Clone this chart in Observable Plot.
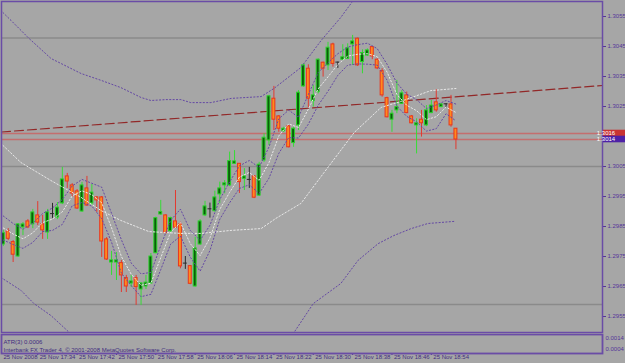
<!DOCTYPE html>
<html><head><meta charset="utf-8">
<script src="https://cdn.jsdelivr.net/npm/d3@7"></script>
<script src="https://cdn.jsdelivr.net/npm/@observablehq/plot@0.6"></script>
<style>
html,body{margin:0;padding:0;background:#a6a6a6;}
#chart svg{display:block;}
</style></head><body><div id="chart"></div>
<script>
// ---- data (M1 candles, 25 Nov 2008 17:27 - 18:59) ----
const bars = d3.range(1, 94);
const open = [1.29790,1.29834,1.29798,1.29750,1.29847,1.29867,1.29857,1.29887,1.29857,1.29830,
1.29893,1.29880,1.29927,1.30017,1.29987,1.29967,1.29900,1.29977,1.29927,1.29947,
1.29947,1.29807,1.29730,1.29730,1.29728,1.29678,1.29660,1.29678,1.29640,1.29650,
1.29660,1.29761,1.29890,1.29887,1.29834,1.29867,1.29857,1.29728,1.29718,1.29650,
1.29790,1.29887,1.29909,1.29901,1.29957,1.29987,1.29987,1.30059,1.30059,1.30009,
1.30007,1.30017,1.29953,1.30070,1.30137,1.30276,1.30217,1.30168,1.30184,1.30128,
1.30187,1.30317,1.30376,1.30268,1.30298,1.30396,1.30387,1.30457,1.30398,1.30406,
1.30409,1.30457,1.30476,1.30398,1.30420,1.30448,1.30406,1.30368,1.30278,1.30206,
1.30237,1.30259,1.30287,1.30217,1.30187,1.30206,1.30187,1.30228,1.30264,1.30248,
1.30259,1.30257,1.30176];
const high = [1.29837,1.29843,1.29803,1.29860,1.29863,1.29873,1.29907,1.29933,1.29887,1.29907,
1.29927,1.29930,1.30047,1.30027,1.29993,1.29973,1.29997,1.30017,1.29990,1.29950,
1.29950,1.29813,1.29767,1.29763,1.29737,1.29687,1.29687,1.29687,1.29663,1.29687,
1.29760,1.29881,1.29937,1.29889,1.29881,1.29970,1.29864,1.29750,1.29720,1.29814,
1.29873,1.29934,1.29928,1.29968,1.29998,1.30003,1.30098,1.30103,1.30060,1.30043,
1.30047,1.30020,1.30064,1.30159,1.30287,1.30317,1.30220,1.30181,1.30187,1.30181,
1.30303,1.30392,1.30389,1.30320,1.30409,1.30398,1.30464,1.30461,1.30398,1.30456,
1.30459,1.30487,1.30478,1.30439,1.30442,1.30448,1.30409,1.30376,1.30281,1.30237,
1.30337,1.30303,1.30298,1.30220,1.30209,1.30237,1.30253,1.30270,1.30306,1.30260,
1.30259,1.30287,1.30176];
const low = [1.29783,1.29803,1.29730,1.29747,1.29820,1.29843,1.29843,1.29853,1.29807,1.29807,
1.29877,1.29873,1.29923,1.29977,1.29947,1.29907,1.29897,1.29917,1.29920,1.29897,
1.29747,1.29737,1.29687,1.29670,1.29630,1.29630,1.29647,1.29587,1.29587,1.29640,
1.29657,1.29759,1.29887,1.29826,1.29827,1.29843,1.29709,1.29707,1.29656,1.29648,
1.29787,1.29883,1.29878,1.29898,1.29926,1.29959,1.29983,1.30057,1.29960,1.29970,
1.29977,1.29943,1.29950,1.30064,1.30120,1.30170,1.30164,1.30163,1.30112,1.30114,
1.30170,1.30314,1.30246,1.30248,1.30292,1.30348,1.30370,1.30381,1.30377,1.30403,
1.30407,1.30387,1.30384,1.30359,1.30417,1.30406,1.30373,1.30281,1.30212,1.30164,
1.30226,1.30257,1.30226,1.30192,1.30092,1.30148,1.30183,1.30226,1.30231,1.30246,
1.30246,1.30181,1.30106];
const close = [1.29828,1.29809,1.29756,1.29857,1.29857,1.29847,1.29897,1.29863,1.29837,1.29897,
1.29893,1.29913,1.30007,1.30000,1.29960,1.29910,1.29987,1.29920,1.29963,1.29937,
1.29800,1.29740,1.29737,1.29737,1.29687,1.29650,1.29667,1.29648,1.29660,1.29663,
1.29750,1.29878,1.29898,1.29828,1.29878,1.29846,1.29717,1.29728,1.29659,1.29777,
1.29867,1.29917,1.29909,1.29947,1.29977,1.29994,1.30068,1.30067,1.29998,1.30017,
1.30007,1.29946,1.30056,1.30146,1.30284,1.30206,1.30176,1.30176,1.30114,1.30176,
1.30296,1.30387,1.30276,1.30287,1.30406,1.30376,1.30446,1.30392,1.30398,1.30414,
1.30444,1.30467,1.30387,1.30428,1.30437,1.30417,1.30377,1.30287,1.30214,1.30226,
1.30248,1.30294,1.30228,1.30194,1.30194,1.30194,1.30237,1.30253,1.30237,1.30257,
1.30259,1.30187,1.30140];

// short envelope (purple dotted) and its middle (white dotted), read every 2 bars
const bandBars = d3.range(1, 94, 2);
const innerUpper = [1.29885,1.29860,1.29841,1.29861,1.29893,1.29912,1.29940,1.29985,1.30007,1.29994,
1.29981,1.29894,1.29806,1.29728,1.29692,1.29697,1.29786,1.29870,1.29908,1.29837,
1.29804,1.29854,1.29940,1.29999,1.30052,1.30070,1.30047,1.30115,1.30209,1.30238,
1.30214,1.30290,1.30363,1.30396,1.30426,1.30448,1.30456,1.30461,1.30443,1.30391,
1.30328,1.30291,1.30273,1.30243,1.30255,1.30270,1.30258];
const innerLower = [1.29805,1.29790,1.29777,1.29797,1.29833,1.29837,1.29857,1.29919,1.29930,1.29918,
1.29876,1.29798,1.29694,1.29653,1.29616,1.29624,1.29706,1.29791,1.29818,1.29748,
1.29701,1.29770,1.29874,1.29929,1.29977,1.29989,1.29960,1.30011,1.30094,1.30146,
1.30145,1.30191,1.30254,1.30301,1.30354,1.30388,1.30392,1.30391,1.30388,1.30338,
1.30251,1.30217,1.30199,1.30168,1.30176,1.30226,1.30202];
const innerMid = [1.29845,1.29825,1.29809,1.29829,1.29863,1.29875,1.29899,1.29952,1.29969,1.29956,
1.29929,1.29846,1.29750,1.29691,1.29654,1.29661,1.29746,1.29831,1.29863,1.29793,
1.29753,1.29812,1.29907,1.29964,1.30015,1.30030,1.30004,1.30063,1.30152,1.30192,
1.30180,1.30241,1.30309,1.30349,1.30390,1.30418,1.30424,1.30426,1.30416,1.30365,
1.30290,1.30254,1.30236,1.30206,1.30216,1.30248,1.30230];

// slow bands: middle (white dotted), upper / lower (purple dotted)
const slowBars = [0.94,4.6,10.7,16.8,20.9,24.9,30.6,37.1,41.2,47.3,53.4,56.4,61.5,66.2,72.3,77.8,81.8,87.9,93];
const slowMid  = [1.30120,1.30063,1.30003,1.29947,1.29903,1.29870,1.29833,1.29827,1.29827,1.29837,1.29843,1.29877,1.29927,1.30030,1.30163,1.30247,1.30267,1.30303,1.30310];
const upperBars = [0.94,2.56,6.22,10.7,16.8,20.9,24.9,29.0,31.0,34.1,37.1,39.1,43.2,47.3,53.4,56.0,61.5,65.6,69.6,72.1,74.7];
const upperBand = [1.30563,1.30537,1.30477,1.30410,1.30360,1.30337,1.30313,1.30280,1.30270,1.30273,1.30273,1.30263,1.30263,1.30277,1.30283,1.30310,1.30380,1.30470,1.30547,1.30603,1.30653];
const lowerBarsA = [0.53,4.6,7.24,10.7,14.4,16.8];
const lowerBandA = [1.29680,1.29637,1.29593,1.29553,1.29497,1.29453];
const lowerBarsB = [57.4,60.1,64.0,69.6,73.1,77.2,80.4,83.9,87.3,92.6];
const lowerBandB = [1.29453,1.29497,1.29593,1.29660,1.29737,1.29793,1.29820,1.29843,1.29860,1.29867];

// levels
const grayLevels = [1.30478, 1.3005, 1.2959];
const bidAsk = [1.3016, 1.3014];
const trendPrices = [1.30165, 1.30320];
const yTickValues = [1.3055,1.3045,1.3035,1.3025,1.3005,1.2995,1.2985,1.2975,1.2965,1.2955];
const atrTicks = [0.0014, 0.0004];
const timeTickBars = [8,16,24,32,40,48,56,64,72,80,88];
const timeTickLabels = ["25 Nov 17:34","25 Nov 17:42","25 Nov 17:50","25 Nov 17:58","25 Nov 18:06","25 Nov 18:14","25 Nov 18:22","25 Nov 18:30","25 Nov 18:38","25 Nov 18:46","25 Nov 18:54"];
const firstDateLabel = "25 Nov 2008";
const subTexts = ["ATR(3) 0.0006", "Interbank FX Trader 4, \u00A9 2001-2008 MetaQuotes Software Corp."];

// ---- styling ----
const purple = "#6448a4", axisPurple = "#55359a", textPurple = "#3f2c80";
const font = "'Liberation Sans', Arial, sans-serif";
const xDomain = [0.634, 122.79];

const candles = bars.map((b, i) => ({bar: b, open: open[i], high: high[i], low: low[i], close: close[i]}));
const kind = d => d.close > d.open ? "up" : d.close < d.open ? "down" : "doji";
const wickColor = {up: "#36dc36", down: "#e23a30", doji: "#2a2a2a"};
const bodyFill = {up: "#0a5e0a", down: "#ff8a1e"};
const bodyStroke = {up: "#2ad42a", down: "#e8361e"};
const pts = (xs, ys) => xs.map((x, i) => ({bar: x, v: ys[i]}));
const trend = [{bar: xDomain[0], v: trendPrices[0]}, {bar: xDomain[1], v: trendPrices[1]}];

const dotted = (data, stroke, dash) => Plot.line(data, {x: "bar", y: "v", stroke, strokeWidth: 1, strokeDasharray: dash, clip: true});

const main = Plot.plot({
  width: 625, height: 333,
  marginLeft: 1, marginRight: 23, marginTop: 1, marginBottom: 1,
  x: {domain: xDomain, axis: null},
  y: {domain: [1.2949667, 1.3060], axis: "right", ticks: yTickValues, tickFormat: d3.format(".4f"), tickSize: 3, tickPadding: 2, label: null},
  color: {type: "identity"},
  style: {background: "transparent", color: axisPurple, fontSize: "6px", fontFamily: font},
  marks: [
    Plot.ruleY(grayLevels, {stroke: "#8a8a8a", strokeWidth: 1.5}),
    Plot.ruleY(bidAsk, {stroke: "#c46e6e", strokeWidth: 1.5}),
    Plot.line(trend, {x: "bar", y: "v", stroke: "#922828", strokeWidth: 1.2, strokeDasharray: "9,4"}),
    Plot.ruleX(candles, {x: "bar", y1: "low", y2: "high", stroke: d => wickColor[kind(d)], strokeWidth: 1}),
    Plot.rect(candles.filter(d => kind(d) !== "doji"), {
      x1: d => d.bar - 0.3, x2: d => d.bar + 0.3, y1: "open", y2: "close",
      fill: d => bodyFill[kind(d)], stroke: d => bodyStroke[kind(d)], strokeWidth: 1
    }),
    Plot.ruleY(candles.filter(d => kind(d) === "doji"), {x1: d => d.bar - 0.4, x2: d => d.bar + 0.4, y: "open", stroke: "#2a2a2a", strokeWidth: 1}),
    dotted(pts(slowBars, slowMid), "#e8e8e8", "1.5,2"),
    dotted(pts(upperBars, upperBand), purple, "1.2,2.2"),
    dotted(pts(lowerBarsA, lowerBandA), purple, "1.2,2.2"),
    dotted(pts(lowerBarsB, lowerBandB), purple, "1.2,2.2"),
    dotted(pts(bandBars, innerUpper), purple, "1.2,2.2"),
    dotted(pts(bandBars, innerLower), purple, "1.2,2.2"),
    dotted(pts(bandBars, innerMid), "#e8e8e8", "1.5,2"),
    Plot.frame({stroke: "#6a4ca6", strokeWidth: 1.5})
  ]
});

// price tags on the right axis, positioned through the plot's own y scale
{
  const ys = main.scale("y"), xs = main.scale("x");
  const yf = d3.scaleLinear().domain(ys.domain).range(ys.range);
  const xr = xs.range[1];
  const tags = [{v: bidAsk[0], bg: "#c83434"}, {v: bidAsk[1], bg: "#4e22a6"}];
  const g = d3.select(main).append("g").attr("font-family", font).attr("font-size", 6);
  tags.forEach(t => {
    const y = yf(t.v);
    g.append("rect").attr("x", xr + 1).attr("y", y - 3.3).attr("width", 22).attr("height", 6.6).attr("fill", t.bg);
    g.append("text").attr("x", xr + 4).attr("y", y).attr("dy", "0.35em").attr("fill", "#ffffff").text(d3.format(".4f")(t.v));
  });
}

const timeLabels = [{bar: xDomain[0], label: firstDateLabel}].concat(timeTickBars.map((b, i) => ({bar: b, label: timeTickLabels[i]})));

const sub = Plot.plot({
  width: 625, height: 30,
  marginLeft: 1, marginRight: 23, marginTop: 1, marginBottom: 10,
  x: {domain: xDomain, axis: "bottom", ticks: timeTickBars, tickFormat: () => "", tickSize: 2, label: null},
  y: {domain: [0.0000364, 0.0017636], axis: "right", ticks: atrTicks, tickFormat: d3.format(".4f"), tickSize: 0, tickPadding: 3, label: null},
  style: {background: "transparent", color: axisPurple, fontSize: "6px", fontFamily: font},
  marks: [
    Plot.frame({stroke: "#6a4ca6", strokeWidth: 1.8}),
    Plot.text([subTexts[0]], {text: d => d, frameAnchor: "top-left", textAnchor: "start", dx: 2, dy: 5, fill: textPurple, fontSize: 6}),
    Plot.text([subTexts[1]], {text: d => d, frameAnchor: "top-left", textAnchor: "start", dx: 2, dy: 13.5, fill: textPurple, fontSize: 6}),
    Plot.text(timeLabels, {x: "bar", text: "label", frameAnchor: "bottom", textAnchor: "start", dx: 2, dy: 5.5, fill: textPurple, fontSize: 6})
  ]
});

const host = document.getElementById("chart");
host.appendChild(main);
host.appendChild(sub);
</script>
</body></html>
